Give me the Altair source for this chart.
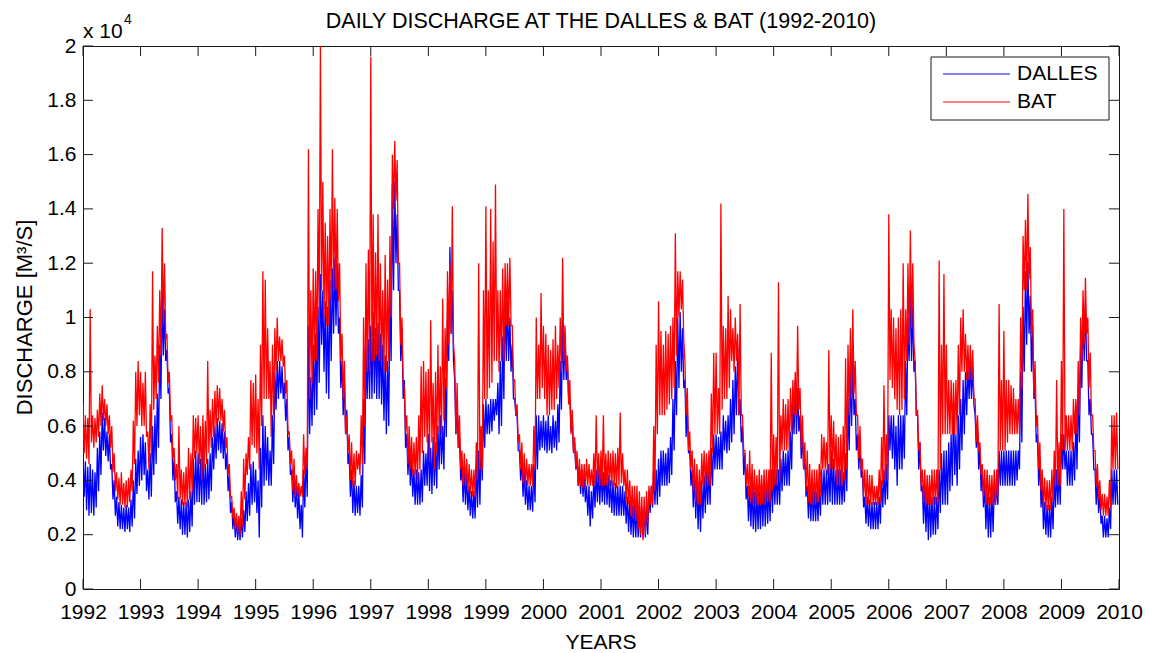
import altair as alt
import pandas as pd

# Daily discharge (m^3/s), 1992-2009, summarised per half-month as the
# upper and lower edge of the daily values (24 half-months per year).
START_YEAR = 1992
STEPS_PER_YEAR = 24

DALLES_HIGH = [
    4900, 4700, 4500, 4600, 4400, 4300, 5200, 5800, 6500, 6300, 5800, 5700, 4600, 4000, 3400, 3200, 3100, 3000, 3100, 3000, 3300, 4000, 4800, 5100,  # 1992
    5600, 5700, 5400, 4400, 5000, 6000, 6400, 7200, 9000, 11000, 10300, 8800, 7400, 5700, 4800, 3600, 3400, 3300, 3200, 3200, 3300, 3600, 4800, 5100,  # 1993
    5000, 4800, 5100, 4600, 4800, 5000, 5600, 6000, 6300, 6200, 6100, 5800, 5000, 4200, 3200, 2800, 2600, 2500, 2600, 2900, 3600, 3900, 4600, 4700,  # 1994
    4400, 4000, 5200, 6400, 6000, 5600, 5100, 6400, 8000, 8400, 8400, 8200, 7600, 7000, 5600, 4400, 4200, 3800, 3600, 3100, 4400, 5000, 9700, 7800,  # 1995
    9000, 9400, 10400, 11600, 11000, 10600, 10400, 11400, 11800, 12200, 12000, 10000, 8400, 7700, 6600, 5000, 4400, 4000, 3800, 3800, 4200, 7000, 9000, 9200,  # 1996
    9700, 10200, 9600, 9800, 9400, 9000, 8600, 8400, 11000, 14900, 15000, 13800, 11000, 9600, 7700, 5700, 5200, 4800, 4400, 4400, 4300, 4400, 5100, 5000,  # 1997
    5700, 5200, 5600, 5400, 6000, 6400, 6000, 7800, 10000, 12600, 11000, 7700, 7000, 5600, 4600, 4400, 4200, 3800, 3600, 3600, 4600, 5100, 5600, 6800,  # 1998
    7000, 6800, 7000, 7000, 7000, 7600, 8400, 9300, 11000, 10600, 10000, 9000, 7000, 6400, 5100, 4800, 4400, 4000, 3800, 3800, 4600, 6400, 6400, 6200,  # 1999
    6400, 6200, 6400, 6000, 6400, 6200, 6800, 8400, 10000, 9400, 8400, 7000, 6400, 5400, 4800, 4400, 4400, 4200, 3800, 3800, 3600, 4200, 4400, 4400,  # 2000
    4400, 4300, 4400, 4200, 4000, 4000, 3900, 3800, 3800, 3800, 3600, 3400, 3300, 3100, 3100, 3000, 3000, 3000, 3000, 3000, 3600, 3800, 4400, 4400,  # 2001
    4800, 5100, 5100, 5000, 5200, 5600, 7000, 8400, 10000, 10200, 9600, 7700, 6600, 5100, 4400, 4200, 4000, 3800, 4000, 4200, 4400, 4400, 5200, 5700,  # 2002
    5700, 5600, 5800, 6400, 6200, 6400, 7000, 7700, 8200, 9000, 7000, 6000, 5000, 3800, 3800, 3800, 3600, 3600, 3600, 3800, 3800, 3800, 3800, 4400,  # 2003
    4400, 4400, 4400, 4800, 5100, 5000, 5100, 5800, 7000, 7700, 7400, 6400, 5700, 4800, 3800, 3800, 3800, 3600, 3600, 3800, 4400, 4400, 4400, 4600,  # 2004
    5100, 4800, 4400, 4400, 4400, 4300, 5000, 7000, 8200, 8400, 7000, 5700, 5400, 4400, 3400, 3400, 3300, 3200, 3200, 3200, 3400, 4000, 4400, 4600,  # 2005
    6400, 6400, 6400, 6000, 6400, 6400, 6400, 8400, 10000, 11200, 10400, 8400, 6400, 5400, 3800, 3800, 3600, 3600, 3400, 3400, 3400, 4400, 5000, 5100,  # 2006
    5100, 5400, 5700, 6900, 5700, 6400, 7000, 7700, 8000, 8300, 8400, 8200, 6400, 6000, 5200, 4400, 3800, 3600, 3400, 3600, 3800, 3800, 5100, 5100,  # 2007
    5100, 5100, 5100, 5100, 5100, 5100, 5100, 8000, 10400, 11700, 12050, 10800, 9700, 7400, 5700, 4800, 3800, 3200, 3100, 3100, 3400, 4200, 4400, 4400,  # 2008
    5700, 5700, 5100, 5100, 5100, 5400, 6400, 7400, 9000, 10300, 10500, 8400, 7000, 5700, 4400, 4000, 3600, 2700, 2700, 2600, 3000, 4400, 4400, 4400,  # 2009
]

DALLES_LOW = [
    3400, 2900, 2700, 2800, 2700, 3000, 3600, 4200, 5100, 4900, 4700, 4400, 3300, 2700, 2300, 2200, 2200, 2100, 2200, 2100, 2300, 2600, 3500, 3800,  # 1992
    4000, 4200, 3600, 3300, 3400, 4200, 4600, 5200, 7000, 8600, 8400, 7200, 5400, 4000, 3200, 2400, 2200, 2000, 2000, 1900, 2100, 2300, 3100, 3200,  # 1993
    3200, 3100, 3100, 3200, 3300, 3600, 4400, 4800, 5100, 5000, 4800, 4400, 3600, 2800, 2200, 1900, 1800, 1800, 1900, 2100, 2500, 2700, 3100, 3200,  # 1994
    2800, 1900, 3000, 3800, 4000, 3800, 3800, 4600, 6600, 7000, 7200, 7000, 6200, 5100, 4200, 3200, 3000, 2600, 2200, 1900, 3000, 3400, 5700, 6000,  # 1995
    6400, 6600, 7600, 9000, 8000, 7200, 7000, 8400, 9400, 9700, 9400, 7400, 6400, 5700, 4600, 3400, 2800, 2700, 2800, 2700, 3000, 4600, 7000, 7000,  # 1996
    7000, 7200, 7000, 7000, 6800, 6200, 5700, 6000, 8400, 11000, 12000, 11000, 8400, 7000, 5200, 4200, 3800, 3400, 3100, 3100, 3100, 3200, 3800, 3800,  # 1997
    3600, 3500, 3800, 3700, 4400, 4600, 4400, 5600, 8400, 9400, 8400, 5700, 5200, 4000, 3200, 3100, 2900, 2700, 2600, 2600, 3000, 3100, 4000, 5200,  # 1998
    5700, 5700, 5800, 6200, 6400, 5700, 6000, 7000, 8400, 8400, 8000, 7000, 6400, 5100, 4000, 3400, 3100, 2900, 2900, 2850, 3200, 4400, 5100, 5200,  # 1999
    5100, 5000, 5100, 5000, 5200, 5100, 5400, 6600, 7700, 7700, 7000, 5800, 5100, 4400, 3800, 3500, 3400, 3200, 2700, 2300, 2600, 3000, 3200, 3100,  # 2000
    3200, 3100, 3100, 3000, 2800, 2700, 2700, 2700, 2700, 2700, 2400, 2100, 2000, 1900, 1900, 1900, 1900, 1900, 1900, 2000, 2800, 3000, 3100, 3100,  # 2001
    3400, 3800, 3800, 3800, 3900, 4200, 5100, 6400, 7400, 8000, 7400, 5600, 5000, 3800, 3000, 2600, 2200, 2100, 2600, 2800, 3100, 3100, 3800, 4400,  # 2002
    4400, 4400, 4400, 5100, 5000, 5100, 5400, 5700, 6400, 6400, 5400, 4200, 3300, 2500, 2300, 2200, 2100, 2200, 2200, 2300, 2300, 2400, 2500, 2800,  # 2003
    3100, 3100, 3100, 3600, 3800, 3800, 3800, 4400, 5700, 5700, 5800, 4800, 4400, 3400, 2600, 2500, 2500, 2500, 2500, 2700, 3100, 3100, 3100, 3200,  # 2004
    3100, 3100, 3100, 3100, 3100, 3200, 3600, 5100, 6000, 6400, 5100, 4400, 4100, 3000, 2400, 2300, 2200, 2200, 2200, 2200, 2400, 3000, 3100, 3300,  # 2005
    5100, 4800, 4400, 3800, 4400, 4400, 4800, 6400, 8400, 8400, 8000, 6400, 4400, 3600, 2400, 2100, 1800, 1900, 2000, 2000, 2200, 2800, 3100, 3100,  # 2006
    3100, 3600, 3800, 4200, 3800, 4400, 5100, 5700, 6400, 7000, 7000, 6800, 5200, 4400, 3600, 3000, 2200, 1900, 1900, 2100, 3100, 3100, 3800, 3800,  # 2007
    3800, 3800, 3800, 3800, 3800, 4000, 4400, 5400, 8000, 9000, 9400, 8000, 7000, 5400, 3800, 3000, 2200, 2000, 1900, 1900, 2200, 3000, 3100, 3100,  # 2008
    4400, 4400, 3800, 3800, 3800, 4000, 4400, 5400, 7400, 8400, 8400, 6400, 5700, 4400, 3100, 2800, 2400, 1900, 1900, 1900, 2200, 3100, 3100, 3100,  # 2009
]

BAT_HIGH = [
    6800, 6400, 6300, 10300, 6400, 6300, 6600, 7200, 7500, 7000, 6800, 6400, 6000, 5000, 4300, 4100, 4300, 3900, 4000, 4100, 4400, 6200, 8000, 8400,  # 1992
    8000, 7600, 8000, 5800, 6800, 11700, 8600, 9700, 11000, 13300, 12000, 9400, 8000, 6400, 5200, 4600, 6000, 4400, 4300, 4500, 5200, 5000, 6400, 6300,  # 1993
    6400, 6000, 6400, 6200, 8400, 6600, 7000, 7300, 7500, 7400, 7000, 6600, 5600, 4600, 3400, 3000, 2800, 2700, 3600, 4800, 5000, 5600, 7700, 7600,  # 1994
    7900, 7000, 9000, 11700, 11400, 9600, 8400, 9000, 9600, 10000, 9300, 9200, 8600, 7700, 5800, 5100, 4800, 4200, 3900, 3800, 5700, 5200, 16200, 11000,  # 1995
    11800, 11700, 14000, 20000, 15000, 13500, 13000, 14000, 16200, 14400, 14000, 12000, 9400, 8400, 6400, 5700, 5400, 5000, 5100, 5000, 6400, 10000, 12000, 12500,  # 1996
    19600, 13800, 12400, 13800, 12000, 11000, 12300, 11400, 13000, 16000, 16500, 15800, 12000, 10000, 7400, 6400, 6000, 5600, 5400, 5600, 6400, 8200, 8400, 8000,  # 1997
    8100, 9900, 7600, 8000, 9000, 8200, 10700, 9600, 11700, 12000, 14100, 8400, 7600, 6400, 5100, 5000, 4800, 4600, 4400, 4400, 5400, 12000, 6000, 11000,  # 1998
    14100, 11000, 14000, 12800, 14900, 11000, 11000, 11800, 12000, 12000, 12200, 9700, 7700, 6800, 5700, 5400, 5000, 4800, 4600, 4600, 6000, 10000, 9000, 10900,  # 1999
    9700, 9400, 9000, 8800, 9200, 9700, 9000, 10000, 12200, 9700, 8600, 7700, 6600, 5600, 5100, 4800, 4600, 4600, 4800, 4600, 4400, 5000, 6400, 5000,  # 2000
    5100, 6400, 5000, 5100, 5000, 5100, 5000, 5200, 6500, 5000, 4400, 4400, 4000, 3800, 3800, 3800, 3600, 3400, 3400, 3600, 3800, 3800, 6000, 9000,  # 2001
    10600, 9500, 9000, 9500, 9400, 9700, 10000, 13100, 11700, 11700, 11400, 8400, 7400, 5800, 5100, 4800, 4600, 4400, 5000, 5100, 5000, 5100, 7200, 8700,  # 2002
    8700, 7400, 14200, 9700, 9600, 10800, 10300, 9600, 10000, 9400, 10500, 6400, 5100, 4600, 5100, 4600, 4400, 4200, 4400, 4200, 4400, 4400, 4400, 8700,  # 2003
    5700, 5600, 11300, 6400, 7000, 6800, 7000, 7400, 7700, 8000, 9700, 7400, 6400, 5400, 5100, 4600, 4400, 4400, 4400, 4600, 5700, 5600, 5400, 8800,  # 2004
    6400, 6200, 5700, 5600, 5700, 6000, 8500, 9000, 9600, 10300, 8400, 6400, 6000, 4800, 4400, 4400, 4200, 4200, 3800, 3800, 4400, 5600, 7500, 5700,  # 2005
    13800, 10300, 10000, 9600, 10000, 10300, 12000, 10300, 12000, 13200, 12000, 8400, 6600, 5400, 4400, 4400, 4200, 4200, 4400, 4400, 4400, 12100, 9000, 11600,  # 2006
    9000, 7700, 7700, 7600, 7700, 9000, 10000, 10300, 9400, 9000, 9000, 8800, 7000, 6400, 5400, 4600, 4400, 4400, 4200, 4200, 4400, 4400, 10500, 7700,  # 2007
    9500, 7700, 7700, 7500, 7400, 7000, 7000, 10000, 13000, 13600, 14550, 12600, 10300, 8400, 6400, 5400, 4400, 4100, 4000, 4000, 4400, 5100, 7700, 5400,  # 2008
    8400, 14000, 6400, 6400, 6400, 7000, 7000, 8400, 10000, 11000, 11460, 10000, 8700, 6400, 5100, 4600, 4000, 3500, 3500, 3400, 4000, 6400, 6400, 6500,  # 2009
]

BAT_LOW = [
    5000, 4800, 4600, 5400, 5200, 5400, 5600, 6000, 6200, 6000, 5700, 5200, 4300, 3600, 3300, 3100, 3100, 3000, 3000, 3200, 3600, 4600, 6000, 6400,  # 1992
    6000, 6000, 5600, 4400, 4800, 6600, 7000, 7600, 8600, 9800, 9200, 7600, 6200, 4800, 4000, 3300, 3300, 3100, 3100, 3000, 3300, 3600, 4800, 5000,  # 1993
    4600, 4000, 4400, 4600, 5000, 5200, 5600, 6000, 6200, 6200, 5800, 5200, 4200, 3400, 2600, 2200, 2100, 2000, 2300, 3300, 4200, 4400, 5300, 5200,  # 1994
    5000, 4400, 6000, 7000, 7000, 7000, 5600, 6400, 8000, 8400, 8400, 8200, 7200, 5700, 4600, 3600, 3400, 3400, 3400, 3400, 4200, 4400, 7000, 7600,  # 1995
    8400, 8400, 10000, 11000, 10000, 9700, 9700, 10600, 11000, 11000, 10600, 8400, 7000, 5700, 5000, 4000, 3800, 3800, 4400, 4200, 4600, 6000, 8000, 8000,  # 1996
    8400, 8400, 8600, 8400, 8400, 8000, 8000, 8400, 10000, 14000, 14300, 12000, 9000, 7600, 5800, 4600, 4400, 4200, 4200, 4000, 4400, 5000, 5600, 5400,  # 1997
    4800, 5400, 4400, 5000, 5800, 5700, 6200, 7400, 9000, 9400, 9000, 5700, 5200, 4400, 3800, 3800, 3600, 3500, 3400, 3400, 4000, 4400, 4400, 7000,  # 1998
    7000, 7400, 7600, 8400, 8400, 8000, 8400, 8400, 9700, 9700, 9700, 7700, 6400, 5400, 4400, 3900, 3800, 3800, 3800, 3800, 4400, 7000, 7000, 7400,  # 1999
    7000, 6400, 6400, 6600, 6600, 7000, 7400, 8000, 8400, 8000, 6800, 5700, 5000, 4400, 3800, 3800, 3700, 3700, 3800, 3800, 3800, 3800, 4000, 3800,  # 2000
    3800, 3800, 3800, 3800, 3800, 3800, 3700, 3800, 3900, 3800, 3200, 3100, 2700, 2600, 2500, 2200, 2000, 1800, 2000, 2400, 3100, 3100, 3600, 5700,  # 2001
    6400, 6400, 6400, 6600, 6800, 7000, 7400, 8600, 10000, 10300, 9200, 6400, 5100, 4400, 3600, 3200, 3100, 3100, 3800, 3800, 3800, 3800, 5000, 5700,  # 2002
    5700, 5700, 6600, 7000, 7000, 7400, 8400, 8000, 8400, 6400, 6400, 5100, 3800, 3400, 3200, 3100, 3100, 3100, 3100, 3100, 3100, 3200, 3200, 3600,  # 2003
    3800, 3800, 4000, 5100, 5100, 5100, 5100, 5800, 6400, 6400, 6600, 5200, 4400, 3600, 3200, 3100, 3100, 3100, 3200, 3400, 4400, 4400, 4200, 4400,  # 2004
    4400, 4400, 3800, 3800, 3800, 4000, 4400, 6400, 7000, 7200, 6400, 4800, 4400, 3400, 3100, 3100, 3100, 3100, 3100, 3100, 3200, 3800, 4000, 4000,  # 2005
    7700, 7400, 7000, 6600, 6400, 6600, 7000, 8400, 9000, 9600, 9000, 6400, 5100, 3800, 3200, 3100, 3100, 3100, 3100, 3100, 3200, 4400, 5700, 5700,  # 2006
    5700, 5700, 5700, 5700, 5700, 6400, 8000, 8000, 7700, 7700, 7700, 7000, 5400, 5100, 4200, 3400, 3100, 3100, 3100, 3100, 3100, 3400, 5100, 5100,  # 2007
    5100, 5400, 5700, 5700, 5700, 5700, 5700, 7400, 11000, 11000, 11400, 9400, 7000, 6000, 4400, 3600, 3000, 2900, 2900, 2900, 3200, 3800, 3800, 3800,  # 2008
    5100, 5100, 5100, 5100, 5100, 5700, 5700, 6400, 8400, 9000, 9400, 7400, 6400, 5100, 3800, 3300, 2900, 2700, 2700, 2700, 3000, 4400, 4400, 4400,  # 2009
]

YEAR_TICKS = list(range(1992, 2011))
DISCHARGE_TICKS = list(range(0, 20001, 2000))

FONT = "Liberation Sans"
INK = "#1a1a1a"
W, H = 1036, 543
TICK = 10


def daily_trace(high, low):
    """Line that swings between each half-month's upper and lower daily value."""
    rows = []
    for i, (hi, lo) in enumerate(zip(high, low)):
        t = START_YEAR + i / STEPS_PER_YEAR
        rows.append({"year": t, "q": hi})
        rows.append({"year": t + 0.5 / STEPS_PER_YEAR, "q": lo})
    return pd.DataFrame(rows)


dalles_df = daily_trace(DALLES_HIGH, DALLES_LOW)
bat_df = daily_trace(BAT_HIGH, BAT_LOW)

x_enc = alt.X(
    "year:Q",
    scale=alt.Scale(domain=[1992, 2010], nice=False, zero=False),
    axis=alt.Axis(values=YEAR_TICKS, format="d", title=None, ticks=False, domain=False,
                  grid=False, labelFont=FONT, labelFontSize=21, labelColor="black",
                  labelPadding=12, labelFlush=False, labelOverlap=False),
)
y_enc = alt.Y(
    "q:Q",
    scale=alt.Scale(domain=[0, 20000], nice=False),
    axis=alt.Axis(values=DISCHARGE_TICKS, labelExpr="'' + datum.value / 10000", title=None,
                  ticks=False, domain=False, grid=False, labelFont=FONT, labelFontSize=21,
                  labelColor="black", labelPadding=7, labelFlush=False, labelOverlap=False),
)

dalles_line = alt.Chart(dalles_df).mark_line(color="#0000ff", strokeWidth=1.3, clip=True).encode(x=x_enc, y=y_enc)
bat_line = alt.Chart(bat_df).mark_line(color="#ff0000", strokeWidth=1.3, clip=True).encode(x=x_enc, y=y_enc)

# Inward ticks on all four sides of the box
xt = pd.DataFrame({"year": YEAR_TICKS})
yt = pd.DataFrame({"q": DISCHARGE_TICKS})
tick_bottom = alt.Chart(xt).mark_rule(color=INK).encode(x=x_enc, y=alt.value(H), y2=alt.value(H - TICK))
tick_top = alt.Chart(xt).mark_rule(color=INK).encode(x=x_enc, y=alt.value(0), y2=alt.value(TICK))
tick_left = alt.Chart(yt).mark_rule(color=INK).encode(y=y_enc, x=alt.value(0), x2=alt.value(TICK))
tick_right = alt.Chart(yt).mark_rule(color=INK).encode(y=y_enc, x=alt.value(W), x2=alt.value(W - TICK))

one = pd.DataFrame({"k": [0]})


def label(text, x, y, size=21, align="center", angle=0, baseline="middle"):
    return alt.Chart(one).mark_text(
        text=text, font=FONT, fontSize=size, color="black", align=align,
        baseline=baseline, angle=angle,
    ).encode(x=alt.value(x), y=alt.value(y))


title = label("DAILY DISCHARGE AT THE DALLES & BAT (1992-2010)", W / 2, -24, size=21.5)
x_title = label("YEARS", W / 2, H + 54)
y_title = label("DISCHARGE [M³/S]", -58, H / 2, size=22, angle=270)
exp_base = label("x 10", 0, -14, align="left")
exp_sup = label("4", 41, -26, size=14, align="left")

# Legend box
legend_box = alt.Chart(one).mark_rect(fill="white", stroke=INK, strokeWidth=1).encode(
    x=alt.value(848), x2=alt.value(1026), y=alt.value(11), y2=alt.value(74)
)
legend_blue = alt.Chart(one).mark_rule(color="#0000ff", strokeWidth=1).encode(
    x=alt.value(860), x2=alt.value(927), y=alt.value(28)
)
legend_red = alt.Chart(one).mark_rule(color="#ff0000", strokeWidth=1).encode(
    x=alt.value(860), x2=alt.value(927), y=alt.value(56)
)
legend_t1 = label("DALLES", 934, 28, align="left")
legend_t2 = label("BAT", 934, 56, align="left")

chart = alt.layer(
    dalles_line, bat_line,
    tick_bottom, tick_top, tick_left, tick_right,
    legend_box, legend_blue, legend_red, legend_t1, legend_t2,
    title, x_title, y_title, exp_base, exp_sup,
).properties(
    width=W, height=H,
    autosize=alt.AutoSizeParams(type="none"),
    padding={"left": 83, "top": 46, "right": 37, "bottom": 64},
    background="white",
).configure_view(stroke=INK, strokeWidth=1)

chart.save("out.html", embed_options={"renderer": "svg", "actions": False})
